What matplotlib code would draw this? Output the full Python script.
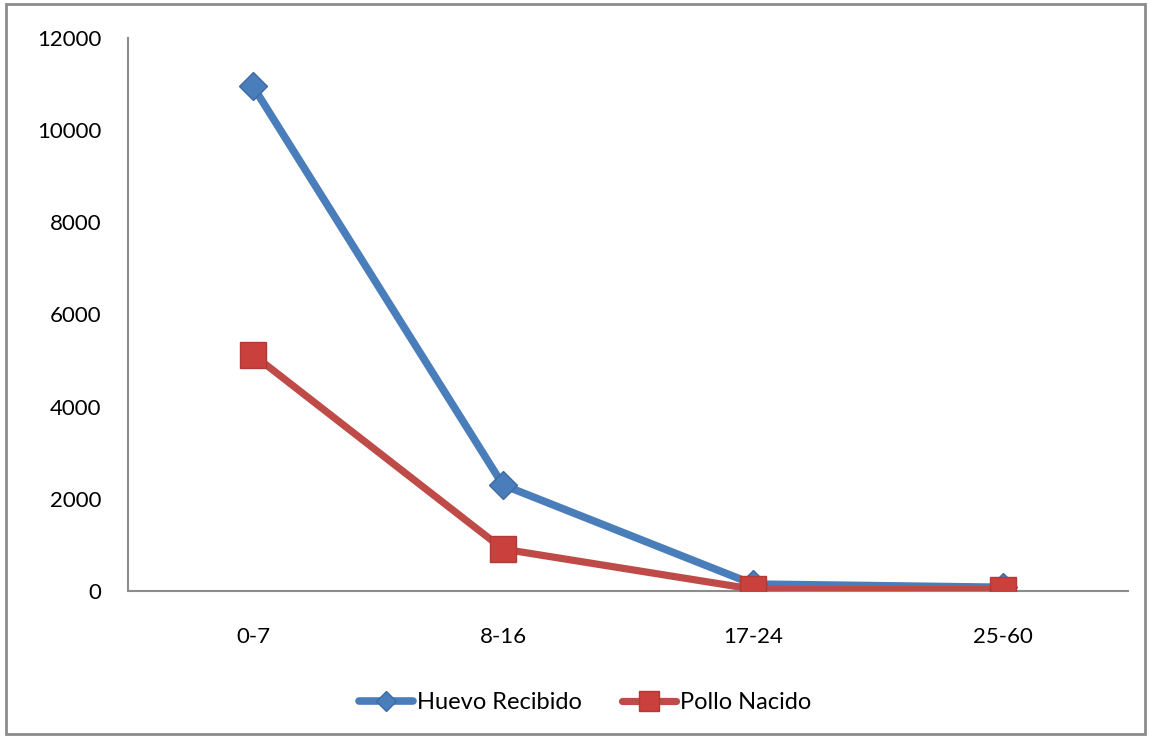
import matplotlib
matplotlib.use("Agg")
import matplotlib.pyplot as plt
from matplotlib.patches import Rectangle

plt.rcParams['font.family'] = ['Lato', 'DejaVu Sans']

categorias = ['0-7', '8-16', '17-24', '25-60']
huevo_recibido = [10950, 2300, 150, 80]
pollo_nacido = [5130, 910, 40, 30]

fig = plt.figure(figsize=(11.51, 7.38), dpi=100)
ax = fig.add_axes([0.1112, 0.1992, 0.8688, 0.7493])

x = range(len(categorias))
ax.plot(x, huevo_recibido, color='#4A7EBB', lw=5.5, marker='D', ms=14,
        mfc='#4A7EBB', mec='#3D6BA5', mew=1, label='Huevo Recibido',
        solid_capstyle='round', zorder=3)
ax.plot(x, pollo_nacido, color='#BE4B48', lw=5.2, marker='s', ms=19,
        mfc='#C9403C', mec='#B03A37', mew=1, label='Pollo Nacido',
        solid_capstyle='round', zorder=4)

ax.set_xlim(-0.5, 3.5)
ax.set_ylim(0, 12000)
ax.set_yticks(range(0, 12001, 2000))
ax.set_xticks(list(x))
ax.set_xticklabels(categorias)
ax.tick_params(axis='both', length=0, labelsize=16, colors='black')
ax.tick_params(axis='y', pad=19)
ax.tick_params(axis='x', pad=26)

for s in ['top', 'right']:
    ax.spines[s].set_visible(False)
for s in ['left', 'bottom']:
    ax.spines[s].set_color('#8C8C8C')
    ax.spines[s].set_linewidth(1.5)

ax.legend(loc='center', bbox_to_anchor=(0.457, -0.2025), ncol=2, frameon=False,
          fontsize=17, handlelength=2.3, columnspacing=1.7, handletextpad=0.15,
          markerscale=0.75)

fig.patches.append(Rectangle((0.005, 0.006), 0.99, 0.988, transform=fig.transFigure,
                             fill=False, edgecolor='#8C8C8C', lw=2))

fig.savefig('out.png', dpi=100)
